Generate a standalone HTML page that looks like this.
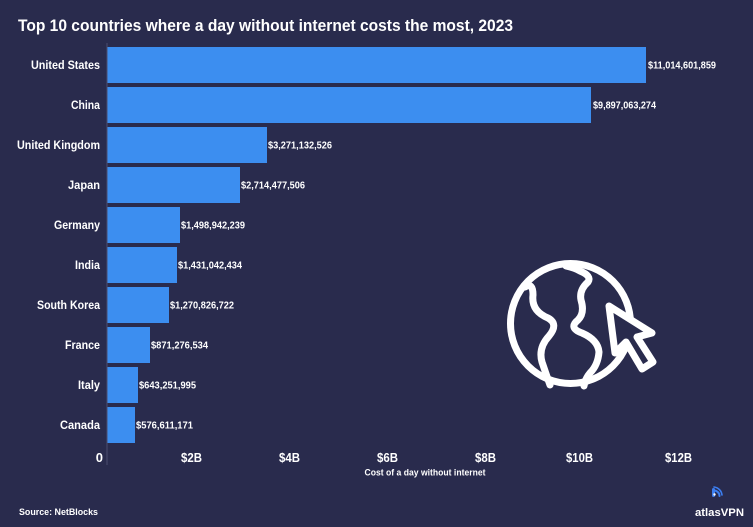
<!DOCTYPE html>
<html><head><meta charset="utf-8"><style>
html,body{margin:0;padding:0;background:#292b4d;}
svg{display:block;}
text{font-family:"Liberation Sans",sans-serif;font-weight:bold;fill:#ffffff;}
</style></head><body>
<svg width="753" height="527" viewBox="0 0 753 527" xmlns="http://www.w3.org/2000/svg">
<rect width="753" height="527" fill="#292b4d"/>
<text x="18" y="31" font-size="17" textLength="495" lengthAdjust="spacingAndGlyphs">Top 10 countries where a day without internet costs the most, 2023</text>

<g fill="#3c8ef0">
<rect x="107" y="47" width="539" height="36"/>
<rect x="107" y="87" width="484" height="36"/>
<rect x="107" y="127" width="160" height="36"/>
<rect x="107" y="167" width="133" height="36"/>
<rect x="107" y="207" width="73" height="36"/>
<rect x="107" y="247" width="70" height="36"/>
<rect x="107" y="287" width="62" height="36"/>
<rect x="107" y="327" width="43" height="36"/>
<rect x="107" y="367" width="31" height="36"/>
<rect x="107" y="407" width="28" height="36"/>
</g>
<line x1="107" y1="43" x2="107" y2="465" stroke="#4a4d6e" stroke-width="1"/>

<g font-size="12" text-anchor="end">
<text x="100" y="69" textLength="69" lengthAdjust="spacingAndGlyphs">United States</text>
<text x="100" y="109" textLength="29" lengthAdjust="spacingAndGlyphs">China</text>
<text x="100" y="149" textLength="83" lengthAdjust="spacingAndGlyphs">United Kingdom</text>
<text x="100" y="189" textLength="32" lengthAdjust="spacingAndGlyphs">Japan</text>
<text x="100" y="229" textLength="46" lengthAdjust="spacingAndGlyphs">Germany</text>
<text x="100" y="269" textLength="25" lengthAdjust="spacingAndGlyphs">India</text>
<text x="100" y="309" textLength="63" lengthAdjust="spacingAndGlyphs">South Korea</text>
<text x="100" y="349" textLength="35" lengthAdjust="spacingAndGlyphs">France</text>
<text x="100" y="389" textLength="22" lengthAdjust="spacingAndGlyphs">Italy</text>
<text x="100" y="429" textLength="40" lengthAdjust="spacingAndGlyphs">Canada</text>
</g>

<g font-size="10">
<text x="648" y="68.5" textLength="68" lengthAdjust="spacingAndGlyphs">$11,014,601,859</text>
<text x="593" y="108.5" textLength="63" lengthAdjust="spacingAndGlyphs">$9,897,063,274</text>
<text x="268" y="148.5" textLength="64" lengthAdjust="spacingAndGlyphs">$3,271,132,526</text>
<text x="241" y="188.5" textLength="64" lengthAdjust="spacingAndGlyphs">$2,714,477,506</text>
<text x="181" y="228.5" textLength="64" lengthAdjust="spacingAndGlyphs">$1,498,942,239</text>
<text x="178" y="268.5" textLength="64" lengthAdjust="spacingAndGlyphs">$1,431,042,434</text>
<text x="170" y="308.5" textLength="64" lengthAdjust="spacingAndGlyphs">$1,270,826,722</text>
<text x="151" y="348.5" textLength="57" lengthAdjust="spacingAndGlyphs">$871,276,534</text>
<text x="139" y="388.5" textLength="57" lengthAdjust="spacingAndGlyphs">$643,251,995</text>
<text x="136" y="428.5" textLength="57" lengthAdjust="spacingAndGlyphs">$576,611,171</text>
</g>

<g font-size="13" text-anchor="end">
<text x="103" y="462">0</text>
<text x="202" y="462" textLength="21" lengthAdjust="spacingAndGlyphs">$2B</text>
<text x="300" y="462" textLength="21" lengthAdjust="spacingAndGlyphs">$4B</text>
<text x="398" y="462" textLength="21" lengthAdjust="spacingAndGlyphs">$6B</text>
<text x="496" y="462" textLength="21" lengthAdjust="spacingAndGlyphs">$8B</text>
<text x="593" y="462" textLength="27" lengthAdjust="spacingAndGlyphs">$10B</text>
<text x="692" y="462" textLength="27" lengthAdjust="spacingAndGlyphs">$12B</text>
</g>
<text x="425" y="475.5" font-size="9.5" text-anchor="middle" textLength="121" lengthAdjust="spacingAndGlyphs">Cost of a day without internet</text>

<text x="19" y="515" font-size="9" textLength="79" lengthAdjust="spacingAndGlyphs">Source: NetBlocks</text>
<text x="695" y="516" font-size="11" textLength="49" lengthAdjust="spacingAndGlyphs">atlasVPN</text>
<g fill="none" stroke="#3c7ef0" stroke-width="2" stroke-linecap="round">
<path d="M714 490.5 A5.5 5.5 0 0 1 719.5 496"/>
<path d="M714 487 A9 9 0 0 1 722 495" stroke-width="1.6"/>
</g>
<rect x="712" y="488" width="3" height="9" rx="1.5" fill="#3c7ef0"/>
<circle cx="714.5" cy="494.5" r="1.2" fill="#ffffff"/>

<!-- globe icon -->
<g fill="none" stroke="#ffffff" stroke-width="7" stroke-linejoin="round" stroke-linecap="round">
<circle cx="570.5" cy="323.5" r="60"/>
<path d="M525 287 Q533 282 533 295 Q531 311 548 318 Q559 324 549 336 Q538 348 542 362 Q546 374 550 385"/>
<path d="M566 266 Q575 268 580 271 Q592 276 588 282 Q579 290 581 300 Q585 313 578 320 Q568 328 582 333 Q598 340 599 352 Q598 365 590 373 Q585 379 584 386"/>
</g>
<path d="M609 306 L615 353 L626 342 L642 369 L653 362 L637 337 L652 333 Z" fill="#292b4d" stroke="#ffffff" stroke-width="7" stroke-linejoin="round"/>
</svg>
</body></html>
